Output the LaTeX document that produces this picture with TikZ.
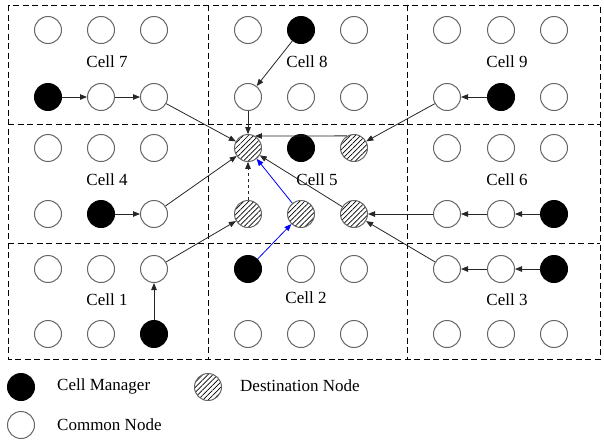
\documentclass[tikz,border=0pt]{standalone}
\usepackage{fontspec}
\setmainfont{Liberation Serif}
\usetikzlibrary{arrows.meta,patterns.meta}
\begin{document}
\begin{tikzpicture}[x=1pt,y=-1pt,
  nd/.style={circle,minimum size=27pt,inner sep=0pt,draw=black!60,line width=1pt},
  common/.style={nd,fill=white},
  mgr/.style={nd,fill=black,draw=black},
  dest/.style={nd,preaction={fill=white},pattern={Lines[angle=45,distance=3.6pt,line width=0.7pt]}},
  arr/.style={-{Triangle[length=7pt,width=5.5pt]},line width=0.8pt,draw=black!85},
  bluearr/.style={-{Triangle[length=7pt,width=5.5pt]},line width=0.8pt,draw=blue},
  gridline/.style={draw=black,dash pattern=on 6pt off 3.5pt,line width=1pt},
  lbl/.style={font=\fontsize{17}{19}\selectfont,inner sep=0pt}]
\useasboundingbox (0,0) rectangle (604,440);
% cell borders
\draw[gridline] (8,5) rectangle (600,359);
\draw[gridline] (208,5) -- (208,359);
\draw[gridline] (407,5) -- (407,359);
\draw[gridline] (8,124) -- (600,124);
\draw[gridline] (8,243) -- (600,243);
% nodes
\foreach \n/\x/\y/\s in {
  n11/48/30/common, n21/101/30/common, n31/154/30/common,
  n12/48/97/mgr, n22/101/97/common, n32/154/97/common,
  n41/248/30/common, n51/301/30/mgr, n61/354/30/common,
  n42/248/97/common, n52/301/97/common, n62/354/97/common,
  n71/447/30/common, n81/501/30/common, n91/554/30/common,
  n72/447/97/common, n82/501/97/mgr, n92/554/97/common,
  n13/48/148/common, n23/101/148/common, n33/154/148/common,
  n14/48/214/common, n24/101/214/mgr, n34/154/214/common,
  n43/248/148/dest, n53/301/148/mgr, n63/354/148/dest,
  n44/248/214/dest, n54/301/214/dest, n64/354/214/dest,
  n73/447/148/common, n83/501/148/common, n93/554/148/common,
  n74/447/214/common, n84/501/214/common, n94/554/214/mgr,
  n15/48/269/common, n25/101/269/common, n35/154/269/common,
  n16/48/334/common, n26/101/334/common, n36/154/334/mgr,
  n45/248/269/mgr, n55/301/269/common, n65/354/269/common,
  n46/248/334/common, n56/301/334/common, n66/354/334/common,
  n75/447/269/common, n85/501/269/common, n95/554/269/mgr,
  n76/447/334/common, n86/501/334/common, n96/554/334/common}
  \node[\s] (\n) at (\x,\y) {};
% labels
\node[lbl] (l7) at (107,62) {Cell 7};
\node[lbl] (l8) at (307,62) {Cell 8};
\node[lbl] (l9) at (507,62) {Cell 9};
\node[lbl] (l4) at (107,180) {Cell 4};
\node[lbl] (l5) at (317,180) {Cell 5};
\node[lbl] (l6) at (507,180) {Cell 6};
\node[lbl] (l1) at (107,300) {Cell 1};
\node[lbl] (l2) at (306,298) {Cell 2};
\node[lbl] (l3) at (507,300) {Cell 3};
% arrows
\draw[arr] (n12) -- (n22);
\draw[arr] (n22) -- (n32);
\draw[arr] (n32) -- (n43);
\draw[arr] (n51) -- (n42);
\draw[arr] (n42) -- (n43);
\draw[arr] (n82) -- (n72);
\draw[arr] (n72) -- (n63);
\draw[arr] (n63.120) -- (n43.60);
\draw[arr] (n24) -- (n34);
\draw[arr] (n34) -- (n43);
\draw[arr] (n94) -- (n84);
\draw[arr] (n84) -- (n74);
\draw[arr] (n74) -- (n64);
\draw[arr] (n95) -- (n85);
\draw[arr] (n85) -- (n75);
\draw[arr] (n75) -- (n64);
\draw[arr] (n36) -- (n35);
\draw[arr] (n35) -- (n44);
\draw[arr] (n64) -- (n43);
\draw[arr,dash pattern=on 3pt off 3pt] (n44) -- (n43);
\draw[bluearr] (n45) -- (n54);
\draw[bluearr] (n54) -- (n43);
% legend
\node[mgr] (km) at (21,387) {};
\node[lbl,anchor=west] (tm) at (57,386) {Cell Manager};
\node[dest] (kd) at (208,387) {};
\node[lbl,anchor=west] (td) at (240,386) {Destination Node};
\node[common] (kc) at (21,425) {};
\node[lbl,anchor=west] (tc) at (57,425) {Common Node};
\end{tikzpicture}
\end{document}
